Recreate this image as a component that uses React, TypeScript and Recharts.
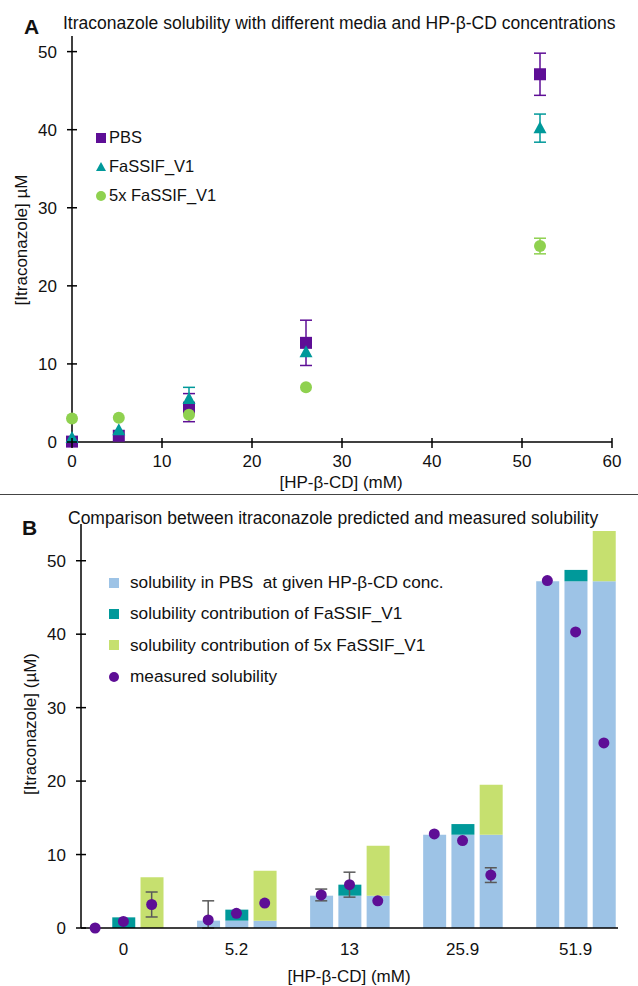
import React from "react";
import { ScatterChart, ComposedChart, Scatter, Bar, XAxis, YAxis, ErrorBar, Legend } from "recharts";

const FONT = '"Liberation Sans", Arial, sans-serif';
const PURPLE = "#5E0E96";
const TEAL = "#00999A";
const LIME = "#8FD14F";
const BLUE = "#9DC3E6";
const PALE_LIME = "#C6E06F";
const GREY = "#595959";

// Panel A: solubility vs HP-β-CD concentration
const seriesNamesA = ["PBS", "FaSSIF_V1", "5x FaSSIF_V1"];
const concA = [0, 5.2, 13, 26, 52];
const pbsA = [0.05, 0.8, 4.4, 12.7, 47.1];
const pbsErrA = [null, null, 1.8, 2.9, 2.7];
const fassifA = [0.5, 1.5, 5.5, 11.5, 40.2];
const fassifErrA = [null, null, 1.5, null, 1.8];
const fx5A = [3.0, 3.1, 3.5, 7.0, 25.1];
const fx5ErrA = [null, null, null, null, 1.0];
const yTicksA = [0, 10, 20, 30, 40, 50];
const xTicksA = [0, 10, 20, 30, 40, 50, 60];

// Panel B: predicted (stacked) vs measured
const seriesNamesB = [
  "solubility in PBS  at given HP-β-CD conc.",
  "solubility contribution of FaSSIF_V1",
  "solubility contribution of 5x FaSSIF_V1",
  "measured solubility",
];
const concB = ["0", "5.2", "13", "25.9", "51.9"];
const pbsBaseB = [0, 1.0, 4.4, 12.7, 47.2];
const fassifAddB = [1.45, 1.5, 1.5, 1.45, 1.55];
const fx5AddB = [6.9, 6.8, 6.8, 6.8, 6.85];
const measPbsB = [0, 1.1, 4.5, 12.8, 47.3];
const measFassifB = [0.9, 2.0, 5.9, 11.9, 40.3];
const measFx5B = [3.2, 3.4, 3.7, 7.2, 25.2];
const errPbsB = [null, [1.1, 2.6], [0.8, 0.8], null, null];
const errFassifB = [null, null, [1.7, 1.7], null, null];
const errFx5B = [[1.7, 1.7], null, null, [1.0, 1.0], null];
const yTicksB = [0, 10, 20, 30, 40, 50];

const toPoints = (ys: number[], errs: (number | null)[]) =>
  concA.map((x, i) => ({ x, y: ys[i], err: errs[i] ?? undefined }));

const pbsPts = toPoints(pbsA, pbsErrA);
const fassifPts = toPoints(fassifA, fassifErrA);
const fx5Pts = toPoints(fx5A, fx5ErrA);

// one row per bar, with an empty slot between concentration groups
const rowsB: any[] = [];
const tickLabelB: Record<string, string> = {};
concB.forEach((c, i) => {
  if (i > 0) rowsB.push({ slot: `gap${i}` });
  rowsB.push({ slot: `${c}-pbs`, base: pbsBaseB[i], measured: measPbsB[i], err: errPbsB[i] ?? undefined });
  rowsB.push({ slot: `${c}-fa`, base: pbsBaseB[i], fa: fassifAddB[i], measured: measFassifB[i], err: errFassifB[i] ?? undefined });
  rowsB.push({ slot: `${c}-fx`, base: pbsBaseB[i], fx: fx5AddB[i], measured: measFx5B[i], err: errFx5B[i] ?? undefined });
  tickLabelB[`${c}-fa`] = c;
});

const txt = { fontFamily: FONT, fontSize: 17, fill: "#111" };

const YTick = (p: any) => (
  <g>
    <line x1={p.x - 5} x2={p.x + 5} y1={p.y} y2={p.y} stroke="#000" strokeWidth={1.5} />
    <text x={p.x - 15} y={p.y} dy={6} textAnchor="end" {...txt}>{p.payload.value}</text>
  </g>
);

const XTickA = (p: any) => (
  <g>
    <line x1={p.x} x2={p.x} y1={p.y - 4} y2={p.y + 6} stroke="#000" strokeWidth={1.5} />
    <text x={p.x} y={p.y + 25} textAnchor="middle" {...txt}>{p.payload.value}</text>
  </g>
);

const XTickB = (p: any) => (
  <text x={p.x} y={p.y + 27} textAnchor="middle" {...txt}>{tickLabelB[p.payload.value] ?? ""}</text>
);

const SquareMark = (p: any) => <rect x={p.cx - 6} y={p.cy - 6} width={12} height={12} fill={PURPLE} />;
const TriMark = (p: any) => (
  <polygon points={`${p.cx},${p.cy - 7} ${p.cx - 6.5},${p.cy + 5} ${p.cx + 6.5},${p.cy + 5}`} fill={TEAL} />
);
const DotMark = (p: any) => <circle cx={p.cx} cy={p.cy} r={6} fill={LIME} />;
const MeasuredDot = (p: any) =>
  p.payload && p.payload.measured != null ? <circle cx={p.cx} cy={p.cy} r={5.5} fill={PURPLE} /> : <g />;

const legendIcon = (type: string, color: string) => {
  if (type === "triangle") return <polygon points="5,0 0,9 10,9" fill={color} />;
  if (type === "circle") return <circle cx={5} cy={5} r={5} fill={color} />;
  return <rect x={0} y={0} width={10} height={10} fill={color} />;
};

const ordered = (payload: any[], names: string[]) =>
  [...(payload || [])].sort((a, b) => names.indexOf(a.value) - names.indexOf(b.value));

const LegendA = (props: any) => (
  <div style={{ fontFamily: FONT, fontSize: 16.5, color: "#111" }}>
    {ordered(props.payload, seriesNamesA).map((e: any) => (
      <div key={e.value} style={{ display: "flex", alignItems: "center", height: 29 }}>
        <svg width={10} height={10} style={{ marginRight: 3 }}>{legendIcon(e.type, e.color)}</svg>
        <span>{e.value}</span>
      </div>
    ))}
  </div>
);

const LegendB = (props: any) => (
  <div style={{ fontFamily: FONT, fontSize: 17.2, color: "#111" }}>
    {ordered(props.payload, seriesNamesB).map((e: any) => (
      <div key={e.value} style={{ display: "flex", alignItems: "center", height: 31.3 }}>
        <svg width={10} height={10} style={{ marginRight: 11 }}>{legendIcon(e.type, e.color)}</svg>
        <span style={{ whiteSpace: "pre" }}>{e.value}</span>
      </div>
    ))}
  </div>
);

const abs = (left: number, top: number, extra: any = {}) => ({
  position: "absolute" as const, left, top, fontFamily: FONT, fontSize: 17, color: "#111",
  whiteSpace: "nowrap" as const, lineHeight: "17px", transform: "translateY(-50%)", ...extra,
});

export default function App() {
  return (
    <div style={{ position: "absolute", left: 0, top: 0, width: 638, height: 986, background: "#fff", overflow: "hidden" }}>
      <div style={abs(24, 26, { fontSize: 21, fontWeight: "bold", lineHeight: "21px" })}>A</div>
      <div style={abs(63, 23, { fontSize: 17.5 })}>Itraconazole solubility with different media and HP-β-CD concentrations</div>
      <div style={abs(21, 240, { transform: "translate(-50%, -50%) rotate(-90deg)" })}>[Itraconazole] µM</div>
      <div style={abs(341, 482, { transform: "translate(-50%, -50%)" })}>[HP-β-CD] (mM)</div>

      <div style={{ position: "absolute", left: 0, top: 0 }}>
        <ScatterChart width={638} height={495} margin={{ top: 36, right: 26, bottom: 23, left: 32 }}>
          <XAxis type="number" dataKey="x" domain={[0, 60]} ticks={xTicksA} interval={0} height={30}
            axisLine={{ stroke: "#000", strokeWidth: 1.5 }} tickLine={false} tickSize={0} tickMargin={0} tick={XTickA} />
          <YAxis type="number" dataKey="y" domain={[0, 52]} ticks={yTicksA} interval={0} width={40}
            axisLine={{ stroke: "#000", strokeWidth: 1.5 }} tickLine={false} tickSize={0} tickMargin={0} tick={YTick} />
          <Legend layout="vertical" align="center" verticalAlign="middle" content={LegendA}
            wrapperStyle={{ left: 96, top: 123, width: "auto", height: "auto" }} />
          <Scatter name={seriesNamesA[0]} data={pbsPts} fill={PURPLE} legendType="square" shape={SquareMark} isAnimationActive={false}>
            <ErrorBar dataKey="err" direction="y" width={6} stroke={PURPLE} strokeWidth={1.5} />
          </Scatter>
          <Scatter name={seriesNamesA[1]} data={fassifPts} fill={TEAL} legendType="triangle" shape={TriMark} isAnimationActive={false}>
            <ErrorBar dataKey="err" direction="y" width={6} stroke={TEAL} strokeWidth={1.5} />
          </Scatter>
          <Scatter name={seriesNamesA[2]} data={fx5Pts} fill={LIME} legendType="circle" shape={DotMark} isAnimationActive={false}>
            <ErrorBar dataKey="err" direction="y" width={6} stroke={LIME} strokeWidth={1.5} />
          </Scatter>
        </ScatterChart>
      </div>

      <div style={{ position: "absolute", left: 0, top: 494, width: 638, height: 1, background: "#444" }} />

      <div style={abs(22, 527, { fontSize: 21, fontWeight: "bold", lineHeight: "21px" })}>B</div>
      <div style={abs(68, 518, { fontSize: 17.5 })}>Comparison between itraconazole predicted and measured solubility</div>
      <div style={abs(30, 724, { transform: "translate(-50%, -50%) rotate(-90deg)" })}>[Itraconazole] (µM)</div>
      <div style={abs(349, 976, { transform: "translate(-50%, -50%)" })}>[HP-β-CD] (mM)</div>

      <div style={{ position: "absolute", left: 0, top: 495 }}>
        <ComposedChart width={638} height={491} data={rowsB} margin={{ top: 29, right: 20, bottom: 28, left: 36 }}>
          <XAxis type="category" dataKey="slot" interval={0} height={30}
            axisLine={{ stroke: "#000", strokeWidth: 1.5 }} tickLine={false} tickSize={0} tickMargin={0} tick={XTickB} />
          <YAxis type="number" domain={[0, 55]} ticks={yTicksB} interval={0} width={45}
            axisLine={{ stroke: "#000", strokeWidth: 1.5 }} tickLine={false} tickSize={0} tickMargin={0} tick={YTick} />
          <Legend layout="vertical" align="center" verticalAlign="middle" content={LegendB}
            wrapperStyle={{ left: 109, top: 72, width: "auto", height: "auto" }} />
          <Bar dataKey="base" name={seriesNamesB[0]} stackId="s" fill={BLUE} barSize={23} legendType="square" isAnimationActive={false} />
          <Bar dataKey="fa" name={seriesNamesB[1]} stackId="s" fill={TEAL} barSize={23} legendType="square" isAnimationActive={false} />
          <Bar dataKey="fx" name={seriesNamesB[2]} stackId="s" fill={PALE_LIME} barSize={23} legendType="square" isAnimationActive={false} />
          <Scatter dataKey="measured" name={seriesNamesB[3]} fill={PURPLE} legendType="circle" shape={MeasuredDot} isAnimationActive={false}>
            <ErrorBar dataKey="err" direction="y" width={6} stroke={GREY} strokeWidth={1.5} />
          </Scatter>
        </ComposedChart>
      </div>
    </div>
  );
}
